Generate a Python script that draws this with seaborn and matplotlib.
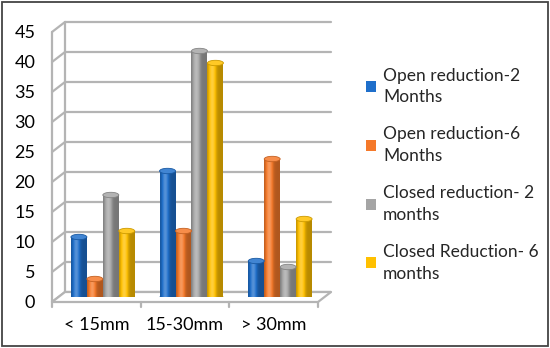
import numpy as np
import pandas as pd
import matplotlib
matplotlib.use("Agg")
import matplotlib.pyplot as plt
import seaborn as sns
from matplotlib.patches import Patch, Polygon, Ellipse, Rectangle
from matplotlib.transforms import ScaledTranslation
import matplotlib.colors as mcolors

categories = ["< 15mm", "15-30mm", "> 30mm"]
series = ["Open reduction-2 Months", "Open reduction-6 Months",
          "Closed reduction- 2 months", "Closed Reduction- 6 months"]
legend_labels = ["Open reduction-2\nMonths", "Open reduction-6\nMonths",
                 "Closed reduction- 2\nmonths", "Closed Reduction- 6\nmonths"]
open_2m = [10, 21, 6]
open_6m = [3, 11, 23]
closed_2m = [17, 41, 5]
closed_6m = [11, 39, 13]
colors = ["#1F6FCB", "#F5792A", "#A5A5A5", "#FFC000"]
yticks = list(range(0, 50, 5))

values = [open_2m, open_6m, closed_2m, closed_6m]
df = pd.DataFrame([
    {"cat": c, "series": s, "val": v[i]}
    for s, v in zip(series, values) for i, c in enumerate(categories)
])

sns.set_theme(style="white")
plt.rcParams["font.family"] = ["Lato", "DejaVu Sans"]

W, H = 550, 348
fig = plt.figure(figsize=(W / 100, H / 100), dpi=100)
ax = fig.add_axes([58.5 / W, 51 / H, 266 / W, 270 / H])

sns.barplot(data=df, x="cat", y="val", hue="series", palette=colors,
            hue_order=series, order=categories, width=0.72, gap=0,
            ax=ax, legend=False, saturation=1, edgecolor="none", zorder=3)

ax.set_xlim(-0.5, 2.5)
ax.set_ylim(0, 45)
for sp in ax.spines.values():
    sp.set_visible(False)
ax.set_facecolor("none")
ax.set_xlabel("")
ax.set_ylabel("")
ax.set_yticks(yticks)
ax.set_yticklabels([str(t) for t in yticks])
ax.tick_params(axis="both", length=0, labelsize=13, colors="#000000")
ax.tick_params(axis="y", pad=12)
ax.tick_params(axis="x", pad=10.5)

# pseudo-3D depth offsets (data units)
dx = 6.5 / 266 * 3
dy = 5 / 6.0
gcol = "#B4B4B4"
glw = 1.6

floor = Polygon([(-0.5 - dx, -dy), (2.5 - dx, -dy), (2.5 + dx, dy), (-0.5 + dx, dy)],
                closed=True, facecolor="white", edgecolor=gcol, lw=glw,
                clip_on=False, zorder=1)
ax.add_patch(floor)
for v in yticks:
    ax.plot([-0.5 + dx, 2.5 + dx], [v + dy, v + dy], color=gcol, lw=glw,
            clip_on=False, zorder=0.5)
    ax.plot([-0.5 - dx, -0.5 + dx], [v - dy, v + dy], color=gcol, lw=glw,
            clip_on=False, zorder=0.5)
ax.plot([-0.5 + dx, -0.5 + dx], [dy, 45 + dy], color=gcol, lw=glw, clip_on=False, zorder=0.5)
ax.plot([-0.5 - dx, -0.5 - dx], [-dy, 45 - dy], color=gcol, lw=glw, clip_on=False, zorder=2)
for xt in [-0.5, 0.5, 1.5, 2.5]:
    ax.plot([xt - dx, xt - dx], [-dy, -dy - 0.9], color=gcol, lw=glw, clip_on=False, zorder=2)

off = ScaledTranslation(-6.5 / 100, -5 / 100, fig.dpi_scale_trans)
for lbl in ax.get_xticklabels() + ax.get_yticklabels():
    lbl.set_transform(lbl.get_transform() + off)

def shade(c, f):
    r, g, b = mcolors.to_rgb(c)
    if f >= 1:
        t = f - 1
        return (r + (1 - r) * t, g + (1 - g) * t, b + (1 - b) * t)
    return (r * f, g * f, b * f)

t = np.linspace(0, 1, 64)
prof = 0.72 + 0.55 * np.exp(-((t - 0.33) / 0.22) ** 2)
prof = np.where(prof > 1, 1 + (prof - 1) * 0.9, prof)
bars = [p for p in ax.patches if isinstance(p, Rectangle) and p.get_height() > 0]
for p in bars:
    x0, w, h = p.get_x(), p.get_width(), p.get_height()
    c = p.get_facecolor()
    img = np.array([[shade(c, f) for f in prof]])
    eh = 0.9
    body = Rectangle((x0, 0), w, h, transform=ax.transData)
    im = ax.imshow(img, extent=(x0, x0 + w, -eh / 2, h), aspect="auto",
                   zorder=3.5, interpolation="bilinear")
    im.set_clip_path(body)
    bot = Ellipse((x0 + w / 2, 0), w, eh, facecolor=shade(c, 0.8), edgecolor="none", zorder=3.2)
    ax.add_patch(bot)
    top = Ellipse((x0 + w / 2, h), w, eh, facecolor=shade(c, 1.15),
                  edgecolor=shade(c, 0.8), lw=0.6, zorder=3.6)
    ax.add_patch(top)
    p.set_visible(False)
ax.set_xlim(-0.5, 2.5)
ax.set_ylim(0, 45)

handles = [Patch(facecolor=c, edgecolor="none") for c in colors]
leg = fig.legend(handles, legend_labels, loc="upper left",
                 bbox_to_anchor=(350 / W, 1 - 52 / H), frameon=False,
                 fontsize=12.5, handlelength=0.6, handleheight=0.6,
                 handletextpad=0.4, labelspacing=1.2)
for tx in leg.get_texts():
    tx.set_linespacing(1.45)

fig.patches.append(Rectangle((2 / W, 2 / H), 546 / W, 344 / H, transform=fig.transFigure,
                             facecolor="none", edgecolor="#444444", lw=1.3))

fig.savefig("out.png", dpi=100)
